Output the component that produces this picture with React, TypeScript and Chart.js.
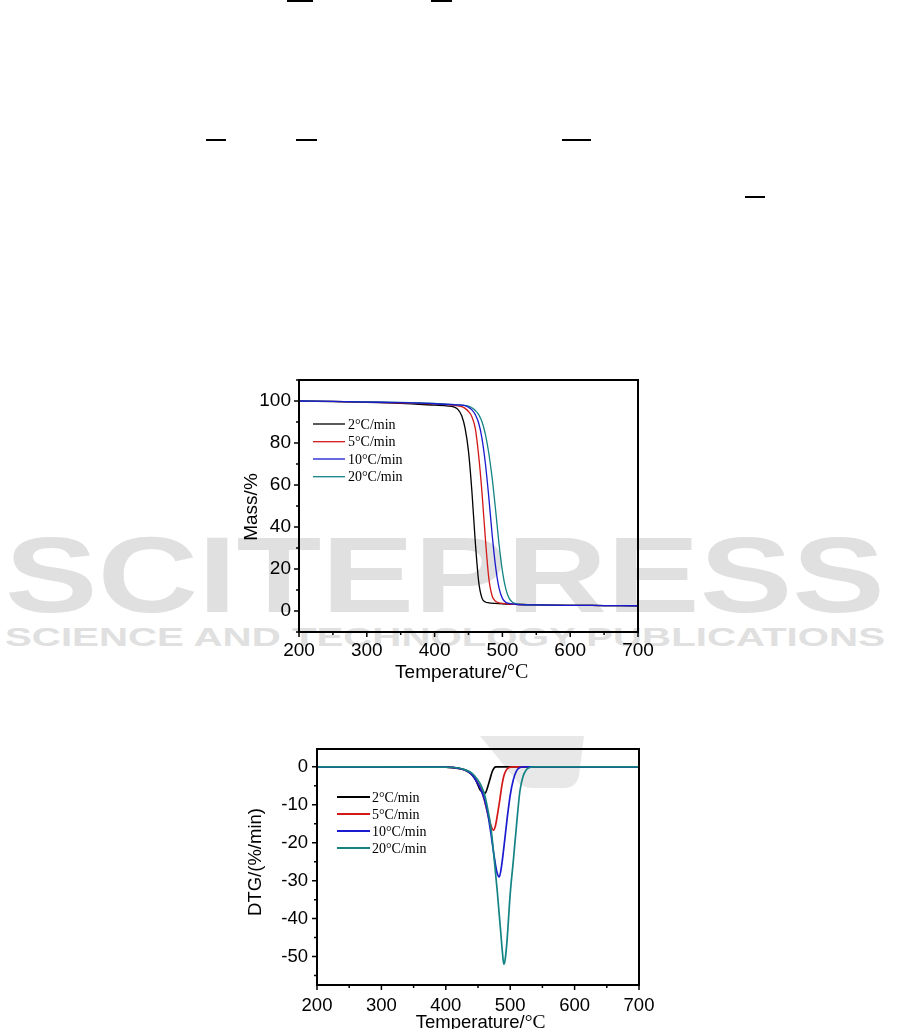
import React, { useEffect, useRef } from 'react';
import { Chart, registerables } from 'chart.js';
Chart.register(...registerables);

// ---------- data ----------
const seriesLabels = ['2°C/min', '5°C/min', '10°C/min', '20°C/min'];
const seriesColors = ['#000000', '#d41818', '#1a1ad0', '#138383'];

const xTickValues = [200, 300, 400, 500, 600, 700];
const tgTickValues = [0, 20, 40, 60, 80, 100];
const dtgTickValues = [0, -10, -20, -30, -40, -50];

// TG (mass %) curves
const tgT2 = [200, 250, 300, 350, 400, 420, 430, 435, 440, 445, 450, 455, 460, 465, 470, 475, 480, 490, 500, 525, 550, 600, 650, 700];
const tgM2 = [100, 99.7, 99.4, 98.9, 98.0, 97.6, 97.0, 95.8, 93.0, 87.0, 76.0, 57.0, 33.0, 14.0, 6.0, 4.3, 3.9, 3.6, 3.4, 3.1, 2.9, 2.7, 2.6, 2.5];
const tgT5 = [200, 250, 300, 350, 400, 430, 440, 445, 450, 455, 460, 465, 470, 475, 480, 485, 490, 495, 500, 510, 525, 550, 600, 650, 700];
const tgM5 = [100, 99.8, 99.5, 99.1, 98.6, 97.9, 97.3, 96.5, 95.0, 92.5, 87.0, 74.0, 56.0, 34.0, 15.5, 7.0, 4.6, 3.9, 3.6, 3.3, 3.1, 2.9, 2.7, 2.6, 2.5];
const tgT10 = [200, 250, 300, 350, 400, 430, 445, 450, 455, 460, 465, 470, 475, 480, 485, 490, 495, 500, 505, 510, 520, 550, 600, 650, 700];
const tgM10 = [100, 99.8, 99.5, 99.2, 98.7, 98.2, 97.8, 97.0, 95.8, 93.5, 89.5, 82.0, 70.0, 54.0, 36.0, 21.0, 11.0, 6.0, 4.2, 3.6, 3.2, 2.9, 2.7, 2.6, 2.5];
const tgT20 = [200, 250, 300, 350, 400, 430, 450, 455, 460, 465, 470, 475, 480, 485, 490, 495, 500, 505, 510, 515, 520, 530, 550, 600, 650, 700];
const tgM20 = [100, 99.8, 99.6, 99.3, 98.8, 98.3, 97.6, 96.8, 95.5, 93.5, 90.0, 84.0, 75.0, 63.0, 48.0, 32.0, 19.0, 10.5, 6.0, 4.2, 3.5, 3.1, 2.9, 2.7, 2.6, 2.5];

// DTG (%/min) curves
const dtgT2 = [200, 300, 400, 410, 420, 430, 440, 445, 450, 453, 456, 458, 461, 465, 469, 472, 475, 478, 500, 600, 700];
const dtgV2 = [0, 0, -0.1, -0.2, -0.4, -0.8, -1.8, -3.0, -4.8, -6.0, -6.5, -6.6, -7.0, -5.3, -3.0, -1.3, -0.3, 0, 0, 0, 0];
const dtgT5 = [200, 300, 400, 420, 430, 440, 450, 455, 460, 465, 470, 474, 477, 480, 484, 487, 490, 494, 498, 505, 600, 700];
const dtgV5 = [0, 0, -0.1, -0.4, -0.9, -2.0, -4.3, -6.0, -8.8, -12.3, -15.4, -16.7, -15.6, -12.8, -8.5, -5.0, -2.5, -0.8, -0.2, 0, 0, 0];
const dtgT10 = [200, 300, 400, 420, 430, 440, 450, 455, 460, 465, 470, 475, 479, 483, 486, 490, 495, 500, 505, 510, 515, 520, 600, 700];
const dtgV10 = [0, 0, -0.1, -0.4, -0.9, -2.0, -4.5, -6.2, -8.6, -12.2, -17.5, -23.5, -27.5, -29.0, -26.8, -21.5, -14.0, -7.5, -3.3, -1.0, -0.2, 0, 0, 0];
const dtgT20 = [200, 300, 400, 420, 430, 440, 450, 455, 460, 465, 470, 475, 480, 485, 488, 490, 492, 495, 500, 505, 510, 515, 520, 525, 530, 535, 600, 700];
const dtgV20 = [0, 0, -0.1, -0.3, -0.8, -1.6, -3.5, -5.0, -7.2, -11.0, -16.0, -24.0, -33.0, -43.0, -49.0, -52.0, -51.0, -46.0, -33.5, -24.5, -15.0, -6.5, -2.5, -0.8, -0.2, 0, 0, 0];

const tgSeries = [
  { t: tgT2, v: tgM2 },
  { t: tgT5, v: tgM5 },
  { t: tgT10, v: tgM10 },
  { t: tgT20, v: tgM20 },
];
const dtgSeries = [
  { t: dtgT2, v: dtgV2 },
  { t: dtgT5, v: dtgV5 },
  { t: dtgT10, v: dtgV10 },
  { t: dtgT20, v: dtgV20 },
];

const SANS = "'Liberation Sans', Arial, sans-serif";
const SERIF = "'Liberation Serif', 'Times New Roman', serif";

type Cfg = {
  yTitle: string;
  titleSize: number;
  yTitleDX: number;
  yTitleDY: number;
  xTitleDX: number;
  xTitleDY: number;
  legendLine: [number, number];
  legendTextX: number;
  legendRows: number[];
  legendLineW: number;
  frameW: number;
  xMinorStep: number;
  yMinor: number[];
  yMajor: number[];
};

function decorPlugin(cfg: Cfg) {
  return {
    id: 'decor',
    afterDraw(chart: any) {
      const { ctx, chartArea: a, scales } = chart;
      const xs = scales.x;
      const ys = scales.y;
      ctx.save();
      // frame
      ctx.strokeStyle = '#000';
      ctx.lineWidth = cfg.frameW;
      ctx.strokeRect(a.left, a.top, a.right - a.left, a.bottom - a.top);
      // ticks
      ctx.lineWidth = 1.5;
      ctx.beginPath();
      xTickValues.forEach((v) => {
        const px = xs.getPixelForValue(v);
        ctx.moveTo(px, a.bottom);
        ctx.lineTo(px, a.bottom + 5);
      });
      for (let v = 200 + cfg.xMinorStep; v < 700; v += 100) {
        const px = xs.getPixelForValue(v);
        ctx.moveTo(px, a.bottom);
        ctx.lineTo(px, a.bottom + 3);
      }
      cfg.yMajor.forEach((v) => {
        const py = ys.getPixelForValue(v);
        ctx.moveTo(a.left, py);
        ctx.lineTo(a.left - 5, py);
      });
      cfg.yMinor.forEach((v) => {
        const py = ys.getPixelForValue(v);
        ctx.moveTo(a.left, py);
        ctx.lineTo(a.left - 3, py);
      });
      ctx.stroke();

      // legend
      ctx.textAlign = 'left';
      ctx.textBaseline = 'middle';
      ctx.font = `14px ${SERIF}`;
      seriesLabels.forEach((lab, i) => {
        const y = a.top + cfg.legendRows[i];
        ctx.strokeStyle = seriesColors[i];
        ctx.lineWidth = cfg.legendLineW;
        ctx.beginPath();
        ctx.moveTo(a.left + cfg.legendLine[0], y);
        ctx.lineTo(a.left + cfg.legendLine[1], y);
        ctx.stroke();
        ctx.fillStyle = '#000';
        ctx.fillText(lab, a.left + cfg.legendTextX, y + 1);
      });

      // y title
      ctx.fillStyle = '#000';
      ctx.save();
      ctx.translate(a.left + cfg.yTitleDX, (a.top + a.bottom) / 2 + cfg.yTitleDY);
      ctx.rotate(-Math.PI / 2);
      ctx.textAlign = 'center';
      ctx.textBaseline = 'middle';
      ctx.font = `${cfg.titleSize}px ${SANS}`;
      ctx.fillText(cfg.yTitle, 0, 0);
      ctx.restore();

      // x title with mixed fonts
      const p1 = 'Temperature/';
      const p2 = '°C';
      ctx.font = `${cfg.titleSize}px ${SANS}`;
      const w1 = ctx.measureText(p1).width;
      ctx.font = `${cfg.titleSize + 1}px ${SERIF}`;
      const w2 = ctx.measureText(p2).width;
      const cx = a.left + cfg.xTitleDX;
      const cy = a.bottom + cfg.xTitleDY;
      const x0 = cx - (w1 + w2) / 2;
      ctx.textAlign = 'left';
      ctx.textBaseline = 'alphabetic';
      ctx.font = `${cfg.titleSize}px ${SANS}`;
      ctx.fillText(p1, x0, cy);
      ctx.font = `${cfg.titleSize + 1}px ${SERIF}`;
      ctx.fillText(p2, x0 + w1, cy);
      ctx.restore();
    },
  };
}

function makeConfig(
  series: { t: number[]; v: number[] }[],
  yMin: number,
  yMax: number,
  yTicks: number[],
  yWidth: number,
  xHeight: number,
  padRight: number,
  fontSize: number,
  xPad: number,
  yPad: number,
  lineW: number,
  orders: number[],
  cfg: Cfg
): any {
  return {
    type: 'line',
    data: {
      datasets: series.map((s, i) => ({
        label: seriesLabels[i],
        data: s.t.map((t, j) => ({ x: t, y: s.v[j] })),
        borderColor: seriesColors[i],
        backgroundColor: seriesColors[i],
        borderWidth: lineW,
        pointRadius: 0,
        fill: false,
        cubicInterpolationMode: 'monotone',
        order: orders[i],
      })),
    },
    options: {
      responsive: false,
      animation: false,
      events: [],
      layout: { autoPadding: false, padding: { top: 10, right: padRight, left: 0, bottom: 0 } },
      plugins: { legend: { display: false }, tooltip: { enabled: false } },
      scales: {
        x: {
          type: 'linear',
          min: 200,
          max: 700,
          afterBuildTicks: (s: any) => {
            s.ticks = xTickValues.map((v) => ({ value: v }));
          },
          afterFit: (s: any) => {
            s.height = xHeight;
            s.paddingLeft = 0;
            s.paddingRight = 0;
            s.paddingTop = 0;
            s.paddingBottom = 0;
          },
          grid: { display: false, drawTicks: false },
          border: { display: false },
          ticks: {
            color: '#000',
            font: { family: SANS, size: fontSize },
            padding: xPad,
            maxRotation: 0,
            autoSkip: false,
          },
        },
        y: {
          type: 'linear',
          min: yMin,
          max: yMax,
          afterBuildTicks: (s: any) => {
            s.ticks = yTicks.map((v) => ({ value: v }));
          },
          afterFit: (s: any) => {
            s.width = yWidth;
            s.paddingLeft = 0;
            s.paddingRight = 0;
            s.paddingTop = 0;
            s.paddingBottom = 0;
          },
          grid: { display: false, drawTicks: false },
          border: { display: false },
          ticks: {
            color: '#000',
            font: { family: SANS, size: fontSize },
            padding: yPad,
            autoSkip: false,
          },
        },
      },
    },
    plugins: [decorPlugin(cfg)],
  };
}

function ChartCanvas({ config, width, height }: { config: () => any; width: number; height: number }) {
  const ref = useRef<HTMLCanvasElement | null>(null);
  useEffect(() => {
    if (!ref.current) return;
    const chart = new Chart(ref.current, config());
    return () => chart.destroy();
  }, []);
  return <canvas ref={ref} width={width} height={height} style={{ display: 'block', width, height }} />;
}

const tgCfg: Cfg = {
  yTitle: 'Mass/%',
  titleSize: 19,
  yTitleDX: -47,
  yTitleDY: 1,
  xTitleDX: 162.7,
  xTitleDY: 46,
  legendLine: [14, 46],
  legendTextX: 49,
  legendRows: [44, 61.7, 79, 96.7],
  legendLineW: 1.3,
  frameW: 2,
  xMinorStep: 50,
  yMinor: [-10, 10, 30, 50, 70, 90, 110],
  yMajor: tgTickValues,
};

const dtgCfg: Cfg = {
  yTitle: 'DTG/(%/min)',
  titleSize: 18.5,
  yTitleDX: -61.3,
  yTitleDY: -5,
  xTitleDX: 163.6,
  xTitleDY: 43,
  legendLine: [20, 53],
  legendTextX: 55,
  legendRows: [48, 65, 82, 99],
  legendLineW: 2,
  frameW: 2,
  xMinorStep: 50,
  yMinor: [-5, -15, -25, -35, -45, -55],
  yMajor: dtgTickValues,
};

export default function App() {
  return (
    <div
      style={{
        position: 'absolute',
        left: 0,
        top: 0,
        width: 901,
        height: 1029,
        overflow: 'hidden',
        background: '#ffffff',
      }}
    >
      <svg width={901} height={1029} style={{ position: 'absolute', left: 0, top: 0 }}>
        <rect x={287} y={0} width={26} height={2} fill="#000" />
        <rect x={431} y={0} width={21} height={2} fill="#000" />
        <rect x={206} y={139} width={20} height={2} fill="#000" />
        <rect x={296} y={139} width={21} height={2} fill="#000" />
        <rect x={562} y={139} width={29} height={2} fill="#000" />
        <rect x={745} y={196} width={20} height={2} fill="#000" />
        <text
          x={5}
          y={612}
          fontFamily={SANS}
          fontWeight="bold"
          fontSize={107}
          fill="#e0e0e0"
          textLength={880}
          lengthAdjust="spacingAndGlyphs"
        >
          SCITEPRESS
        </text>
        <text
          x={5}
          y={646}
          fontFamily={SANS}
          fontWeight="bold"
          fontSize={26}
          fill="#e0e0e0"
          textLength={880}
          lengthAdjust="spacingAndGlyphs"
        >
          SCIENCE AND TECHNOLOGY PUBLICATIONS
        </text>
        <path
          d="M 480 736 L 584 736 L 579 776 Q 576 788 564 788 L 532 788 Q 522 788 516 780 Z"
          fill="#e8e8e8"
        />
      </svg>
      <div style={{ position: 'absolute', left: 230, top: 370 }}>
        <ChartCanvas
          width={450}
          height={320}
          config={() =>
            makeConfig(tgSeries, -10, 110, tgTickValues, 69, 58, 42, 19, 7, 8, 1.3, [3, 2, 0, 1], tgCfg)
          }
        />
      </div>
      <div style={{ position: 'absolute', left: 240, top: 739 }}>
        <ChartCanvas
          width={440}
          height={290}
          config={() =>
            makeConfig(dtgSeries, -57.5, 4.7, dtgTickValues, 77, 44, 41, 18.5, 10, 9, 1.7, [3, 2, 1, 0], dtgCfg)
          }
        />
      </div>
    </div>
  );
}
